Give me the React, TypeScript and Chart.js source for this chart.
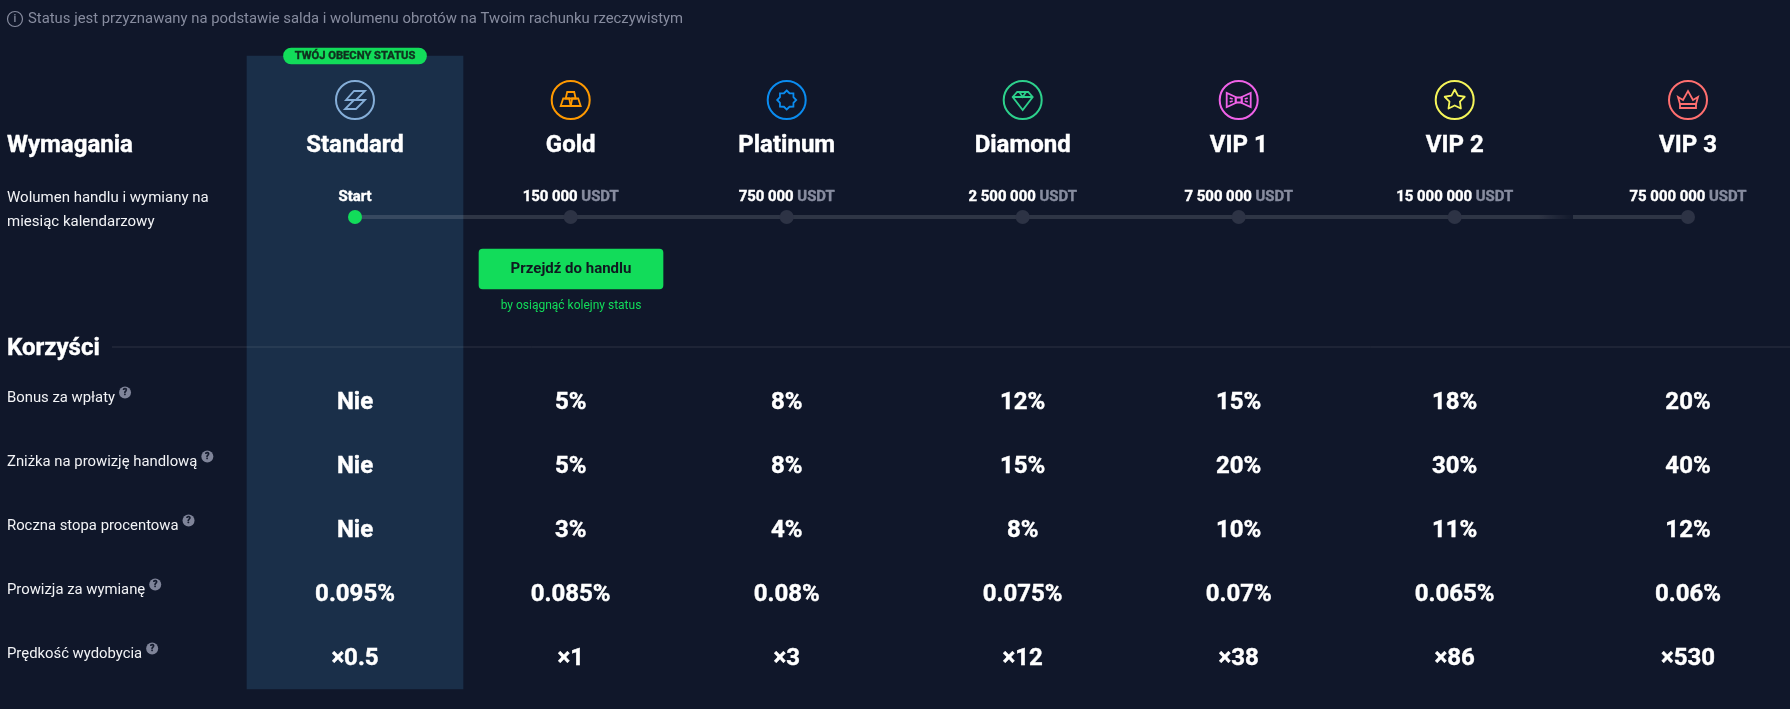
import { useEffect, useRef } from "react";
import Chart from "chart.js/auto";

// dane z tabeli
const tierNames = ["Standard", "Gold", "Platinum", "Diamond", "VIP 1", "VIP 2", "VIP 3"];
const volumeAmounts = ["Start", "150 000", "750 000", "2 500 000", "7 500 000", "15 000 000", "75 000 000"];
const volumeUnit = "USDT";
const bonusValues = ["Nie", "5%", "8%", "12%", "15%", "18%", "20%"];
const discountValues = ["Nie", "5%", "8%", "15%", "20%", "30%", "40%"];
const rateValues = ["Nie", "3%", "4%", "8%", "10%", "11%", "12%"];
const exchangeValues = ["0.095%", "0.085%", "0.08%", "0.075%", "0.07%", "0.065%", "0.06%"];
const miningValues = ["×0.5", "×1", "×3", "×12", "×38", "×86", "×530"];
const benefitLabels = [
  "Bonus za wpłaty",
  "Zniżka na prowizję handlową",
  "Roczna stopa procentowa",
  "Prowizja za wymianę",
  "Prędkość wydobycia",
];
const benefitRows = [bonusValues, discountValues, rateValues, exchangeValues, miningValues];

// układ strony
const WIDTH = 1790;
const HEIGHT = 709;
const columnX = [355, 570.7, 786.7, 1022.7, 1238.7, 1454.7, 1688];
const rowY = [403, 467, 531, 595, 659];
const labelRowY = [398, 462, 526, 590, 654];
const labelX = 7;
const trackY = 217;
const iconColors = ["#85aed8", "#ff9900", "#0a8cf0", "#2dd18c", "#f062e8", "#f5f55a", "#ff6f6f"];

const BG = "#10172a";
const PANEL = "#1a2f49";
const GREEN = "#12dc5a";
const GRAY = "#878c9f";

function poly(ctx: CanvasRenderingContext2D, pts: number[][]) {
  ctx.beginPath();
  pts.forEach((p, i) => (i ? ctx.lineTo(p[0], p[1]) : ctx.moveTo(p[0], p[1])));
  ctx.closePath();
  ctx.stroke();
}

function starPts(n: number, outer: number, inner: number) {
  const pts: number[][] = [];
  for (let i = 0; i < n * 2; i++) {
    const r = i % 2 ? inner : outer;
    const a = -Math.PI / 2 + (i * Math.PI) / n;
    pts.push([r * Math.cos(a), r * Math.sin(a)]);
  }
  return pts;
}

const glyphs: ((ctx: CanvasRenderingContext2D) => void)[] = [
  (ctx) => {
    poly(ctx, [[-9, 0], [-1, -9], [10, -9], [1, 0]]);
    poly(ctx, [[-1, 0], [10, 0], [1, 9], [-10, 9]]);
  },
  (ctx) => {
    poly(ctx, [[-3.5, -8], [3.5, -8], [5, -1.5], [-5, -1.5]]);
    poly(ctx, [[-7.5, -1.5], [-1.5, -1.5], [0, 6], [-10, 6]]);
    poly(ctx, [[1.5, -1.5], [7.5, -1.5], [10, 6], [0, 6]]);
  },
  (ctx) => {
    poly(ctx, starPts(8, 9.5, 7.3));
  },
  (ctx) => {
    poly(ctx, [[-5.5, -8], [5.5, -8], [10, -3], [0, 10], [-10, -3]]);
    ctx.beginPath();
    ctx.moveTo(-10, -3);
    ctx.lineTo(10, -3);
    ctx.moveTo(-3, -7.5);
    ctx.lineTo(0, -3);
    ctx.lineTo(3, -7.5);
    ctx.stroke();
  },
  (ctx) => {
    poly(ctx, [[-3, -2.5], [3, -2.5], [3, 2.5], [-3, 2.5]]);
    poly(ctx, [[-3, -3], [-12, -7], [-12, 7], [-3, 3]]);
    poly(ctx, [[3, -3], [12, -7], [12, 7], [3, 3]]);
    ctx.beginPath();
    ctx.moveTo(-9, -2);
    ctx.lineTo(-6, -1);
    ctx.moveTo(-9, 2);
    ctx.lineTo(-6, 1);
    ctx.moveTo(9, -2);
    ctx.lineTo(6, -1);
    ctx.moveTo(9, 2);
    ctx.lineTo(6, 1);
    ctx.stroke();
  },
  (ctx) => {
    ctx.lineJoin = "round";
    poly(ctx, starPts(5, 10.5, 5.5));
    ctx.lineJoin = "miter";
  },
  (ctx) => {
    poly(ctx, [[-10, -3], [-5, 0], [0, -9], [5, 0], [10, -3], [8, 4], [-8, 4]]);
    poly(ctx, [[-8, 4], [8, 4], [8, 8], [-8, 8]]);
  },
];

function drawText(
  ctx: CanvasRenderingContext2D,
  s: string,
  x: number,
  y: number,
  font: string,
  color: string,
  align: CanvasTextAlign = "center"
) {
  ctx.font = font;
  ctx.fillStyle = color;
  ctx.textAlign = align;
  ctx.textBaseline = "middle";
  ctx.fillText(s, x, y);
  // oryginał ma grubszy rendering pogrubionych fontów
  if (font.startsWith("700")) {
    ctx.strokeStyle = color;
    ctx.lineWidth = 0.4;
    ctx.strokeText(s, x, y);
  }
}

const tablePlugin = {
  id: "tableText",
  afterDatasetsDraw(chart: any) {
    const ctx: CanvasRenderingContext2D = chart.ctx;
    const xs = chart.scales.x;
    const ys = chart.scales.y;
    const px = (v: number) => xs.getPixelForValue(v);
    const py = (v: number) => ys.getPixelForValue(v);
    ctx.save();

    // nota na górze
    ctx.strokeStyle = GRAY;
    ctx.lineWidth = 1.2;
    ctx.beginPath();
    ctx.arc(px(15), py(19), 7.5, 0, Math.PI * 2);
    ctx.stroke();
    drawText(ctx, "i", px(15), py(19), "500 11px Roboto", GRAY);
    drawText(
      ctx,
      "Status jest przyznawany na podstawie salda i wolumenu obrotów na Twoim rachunku rzeczywistym",
      px(28),
      py(19),
      "400 14.85px Roboto",
      GRAY,
      "left"
    );

    drawText(ctx, "TWÓJ OBECNY STATUS", px(355), py(56.5), "700 11.2px Roboto", "#10301f");

    drawText(ctx, "Wymagania", px(labelX), py(145.5), "700 24px Roboto", "#ffffff", "left");
    drawText(ctx, "Wolumen handlu i wymiany na", px(labelX), py(198), "400 15px Roboto", "#f2f3f6", "left");
    drawText(ctx, "miesiąc kalendarzowy", px(labelX), py(222), "400 15px Roboto", "#f2f3f6", "left");
    drawText(ctx, "Korzyści", px(labelX), py(349), "700 24px Roboto", "#ffffff", "left");

    tierNames.forEach((name, i) => {
      const cx = px(columnX[i]);
      ctx.save();
      ctx.translate(cx, py(100));
      ctx.strokeStyle = iconColors[i];
      ctx.lineWidth = 2;
      ctx.beginPath();
      ctx.arc(0, 0, 19, 0, Math.PI * 2);
      ctx.stroke();
      ctx.lineWidth = 1.8;
      glyphs[i](ctx);
      ctx.restore();

      drawText(ctx, name, cx, py(145.5), "700 24px Roboto", "#ffffff");

      // kwota + USDT jako jeden wyśrodkowany blok
      const amount = volumeAmounts[i];
      const font = "700 14.9px Roboto";
      if (i === 0) {
        drawText(ctx, amount, cx, py(197), font, "#ffffff");
      } else {
        ctx.font = font;
        const a = ctx.measureText(amount + " ").width;
        const u = ctx.measureText(volumeUnit).width;
        const left = cx - (a + u) / 2;
        drawText(ctx, amount, left, py(197), font, "#ffffff", "left");
        drawText(ctx, volumeUnit, left + a, py(197), font, GRAY, "left");
      }

      benefitRows.forEach((row, r) => {
        drawText(ctx, row[i], cx, py(rowY[r]), "700 24px Roboto", "#ffffff");
      });
    });

    benefitLabels.forEach((label, r) => {
      const y = py(labelRowY[r]);
      const font = "400 14.85px Roboto";
      drawText(ctx, label, px(labelX), y, font, "#f2f3f6", "left");
      const w = ctx.measureText(label).width;
      const hx = px(labelX) + w + 10;
      const hy = y - 5.5;
      ctx.fillStyle = "#7f8499";
      ctx.beginPath();
      ctx.arc(hx, hy, 6, 0, Math.PI * 2);
      ctx.fill();
      drawText(ctx, "?", hx, hy + 0.5, "700 9px Roboto", "#10172a");
    });

    drawText(ctx, "Przejdź do handlu", px(571), py(269), "bold 15px Roboto", "#0f1a20");
    drawText(ctx, "by osiągnąć kolejny status", px(571), py(306), "400 12px Roboto", GREEN);

    ctx.restore();
  },
};

export default function App() {
  const canvasRef = useRef<HTMLCanvasElement>(null);

  useEffect(() => {
    document.body.style.margin = "0";
    document.body.style.background = BG;
    const canvas = canvasRef.current;
    if (!canvas) return;

    // odcinek VIP 2 -> VIP 3 wygasza się przed przerwą
    const fadeSegment = (seg: any) => {
      if (seg.p0DataIndex !== tierNames.length - 2) return undefined;
      const g = canvas.getContext("2d")!.createLinearGradient(seg.p0.x, 0, seg.p1.x, 0);
      g.addColorStop(0, "rgba(255,255,255,0.13)");
      g.addColorStop(0.36, "rgba(255,255,255,0.13)");
      g.addColorStop(0.505, "rgba(255,255,255,0.01)");
      g.addColorStop(0.506, "rgba(255,255,255,0.13)");
      g.addColorStop(1, "rgba(255,255,255,0.13)");
      return g;
    };

    const chart = new Chart(canvas, {
      type: "bar",
      data: {
        datasets: [
          {
            type: "bar",
            data: [{ x: columnX[0], y: [56, 689] }],
            backgroundColor: PANEL,
            barThickness: 216,
            grouped: false,
            order: 5,
          },
          {
            type: "bar",
            data: [{ x: columnX[0], y: [48, 64] }],
            backgroundColor: GREEN,
            barThickness: 143,
            borderRadius: 8,
            borderSkipped: false,
            grouped: false,
            order: 3,
          },
          {
            type: "bar",
            data: [{ x: 571, y: [249, 289] }],
            backgroundColor: GREEN,
            barThickness: 184,
            borderRadius: 4,
            borderSkipped: false,
            grouped: false,
            order: 3,
          },
          {
            type: "line",
            data: [
              { x: 112, y: 347 },
              { x: WIDTH, y: 347 },
            ],
            borderColor: "rgba(255,255,255,0.12)",
            borderWidth: 1,
            pointRadius: 0,
            order: 2,
          },
          {
            type: "line",
            data: columnX.map((x) => ({ x, y: trackY })),
            borderColor: "rgba(255,255,255,0.13)",
            borderWidth: 4,
            borderCapStyle: "butt",
            pointRadius: 7,
            pointBorderWidth: 0,
            pointBackgroundColor: columnX.map((_, i) => (i === 0 ? GREEN : "#2d3345")),
            segment: { borderColor: fadeSegment },
            order: 1,
          },
        ],
      } as any,
      options: {
        animation: false,
        responsive: false,
        devicePixelRatio: 1,
        events: [],
        layout: { padding: 0, autoPadding: false },
        plugins: { legend: { display: false }, tooltip: { enabled: false } },
        scales: {
          x: { type: "linear", display: false, min: 0, max: WIDTH, offset: false },
          y: { type: "linear", display: false, min: 0, max: HEIGHT, reverse: true, beginAtZero: false },
        },
      },
      plugins: [tablePlugin],
    });
    return () => chart.destroy();
  }, []);

  return (
    <div style={{ position: "fixed", inset: 0, background: BG }}>
      <canvas ref={canvasRef} width={WIDTH} height={HEIGHT} style={{ display: "block" }} />
    </div>
  );
}
